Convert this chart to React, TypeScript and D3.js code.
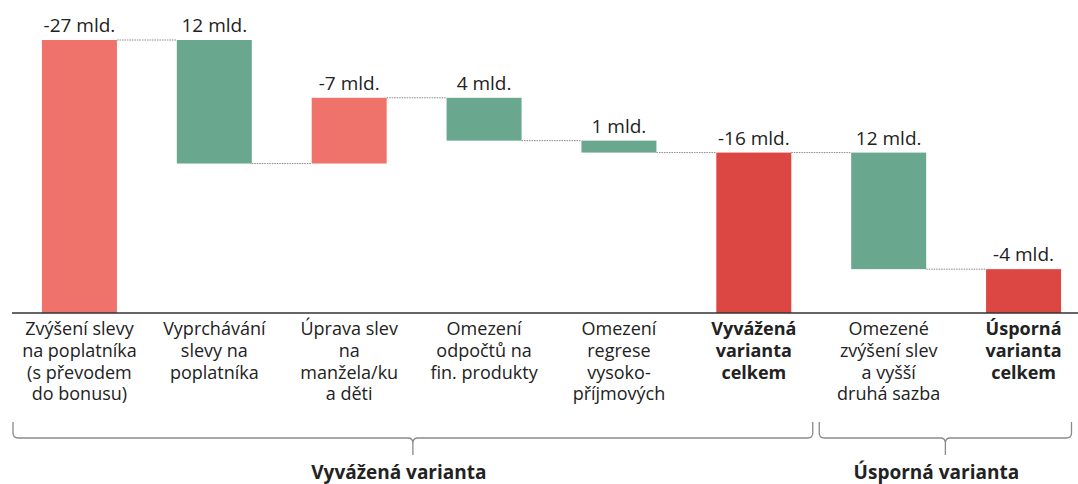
import React from 'react';
import * as d3 from 'd3';

// data (bil. CZK)
const categories = [
  ['Zvýšení slevy', 'na poplatníka', '(s převodem', 'do bonusu)'],
  ['Vyprchávání', 'slevy na', 'poplatníka'],
  ['Úprava slev', 'na', 'manžela/ku', 'a děti'],
  ['Omezení', 'odpočtů na', 'fin. produkty'],
  ['Omezení', 'regrese', 'vysoko-', 'příjmových'],
  ['Vyvážená', 'varianta', 'celkem'],
  ['Omezené', 'zvýšení slev', 'a vyšší', 'druhá sazba'],
  ['Úsporná', 'varianta', 'celkem'],
];
const values = [-27.4, 12.4, -6.6, 4.3, 1.2, 0, 11.7, 0];
const isTotal = [false, false, false, false, false, true, false, true];
const groupLabels = ['Vyvážená varianta', 'Úsporná varianta'];
const groupFrom = [0, 6];
const groupTo = [5, 7];

const W = 1078;
const H = 484;
const FONT = '"Open Sans", "Noto Sans", sans-serif';

const colNeg = '#ef736b';
const colPos = '#69a88f';
const colTotal = '#dd4743';

export default function App() {
  const keys = categories.map((_, i) => String(i));
  const x = d3.scaleBand().domain(keys).range([12, 1091]).paddingInner(0.444).paddingOuter(0.222);
  const y = d3.scaleLinear().domain([0, -27.4]).range([313, 40]);
  const bw = x.bandwidth();
  const gap = (x.step() - bw) / 2;

  let level = 0;
  const bars = values.map((v, i) => {
    let start, end, shown;
    if (isTotal[i]) {
      start = 0;
      end = level;
      shown = level;
    } else {
      start = level;
      end = level + v;
      shown = v;
      level = end;
    }
    return { i, start, end, shown, after: level };
  });

  const color = (b) => (isTotal[b.i] ? colTotal : b.shown < 0 ? colNeg : colPos);
  const fmt = (v) => `${Math.round(v)} mld.`;

  const bracketY = 438;
  // bracket ends are pulled in a bit from the band edges, like the original
  const padL = [1, -2];
  const padR = [-8.5, -19.5];
  const textShift = [-14, -9];

  return (
    <svg width={W} height={H} style={{ position: 'absolute', left: 0, top: 0 }} fontFamily={FONT}>
      {bars.slice(0, -1).map((b) => (
        <line
          key={'c' + b.i}
          x1={x(String(b.i)) + bw}
          x2={x(String(b.i + 1))}
          y1={y(b.after)}
          y2={y(b.after)}
          stroke="#888"
          strokeWidth={1}
          strokeDasharray="1.5,1"
        />
      ))}
      {bars.map((b) => {
        const top = Math.min(y(b.start), y(b.end));
        const h = Math.abs(y(b.start) - y(b.end));
        return (
          <g key={'b' + b.i}>
            <rect x={x(String(b.i))} y={top} width={bw} height={h} fill={color(b)} />
            <text x={x(String(b.i)) + bw / 2} y={top - 8} textAnchor="middle" fontSize={19} fill="#222">
              {fmt(b.shown)}
            </text>
          </g>
        );
      })}
      <line x1={12} x2={W} y1={313} y2={313} stroke="#333" strokeWidth={1.3} />
      {categories.map((lines, i) => (
        <text
          key={'l' + i}
          textAnchor="middle"
          fontSize={18}
          fontWeight={isTotal[i] ? 'bold' : 'normal'}
          fill="#222"
        >
          {lines.map((t, j) => (
            <tspan key={j} x={x(String(i)) + bw / 2} y={335 + j * 21.8}>
              {t}
            </tspan>
          ))}
        </text>
      ))}
      {groupLabels.map((g, k) => {
        const x0 = x(String(groupFrom[k])) - gap + padL[k];
        const x1 = x(String(groupTo[k])) + bw + gap + padR[k];
        const xm = (x0 + x1) / 2;
        const r = 5;
        const d = `M${x0},${bracketY - 16} L${x0},${bracketY - r} Q${x0},${bracketY} ${x0 + r},${bracketY}
          L${xm - r},${bracketY} Q${xm},${bracketY} ${xm},${bracketY + r} L${xm},${bracketY + 17}
          M${xm},${bracketY + r} Q${xm},${bracketY} ${xm + r},${bracketY}
          L${x1 - r},${bracketY} Q${x1},${bracketY} ${x1},${bracketY - r} L${x1},${bracketY - 16}`;
        return (
          <g key={'g' + k}>
            <path d={d} fill="none" stroke="#8a8a8a" strokeWidth={1.3} />
            <text x={xm + textShift[k]} y={479} textAnchor="middle" fontSize={19} fontWeight="bold" fill="#222">
              {g}
            </text>
          </g>
        );
      })}
    </svg>
  );
}
